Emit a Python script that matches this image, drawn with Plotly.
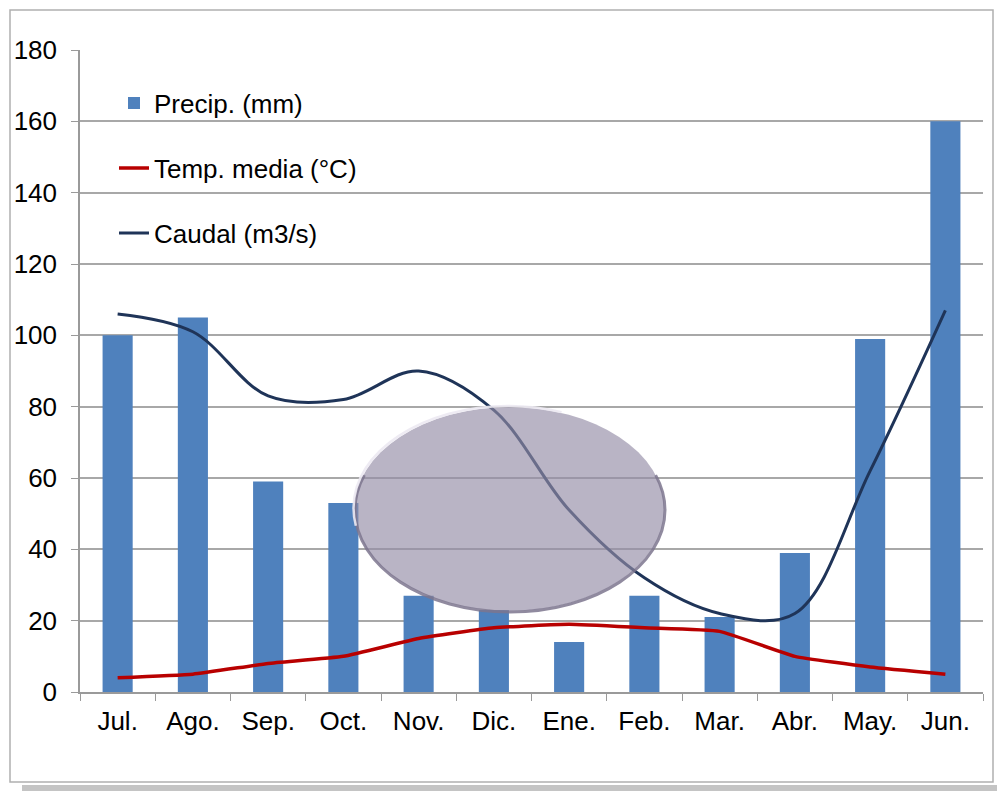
import math
import plotly.graph_objects as go

months = ["Jul.", "Ago.", "Sep.", "Oct.", "Nov.", "Dic.", "Ene.", "Feb.", "Mar.", "Abr.", "May.", "Jun."]
precip = [100, 105, 59, 53, 27, 23, 14, 27, 21, 39, 99, 160]
temp = [4, 5, 8, 10, 15, 18, 19, 18, 17, 10, 7, 5]
caudal = [106, 101, 83, 82, 90, 79, 51, 32, 22, 22, 62, 107]
yticks = [0, 20, 40, 60, 80, 100, 120, 140, 160, 180]

FONT = "Liberation Sans, Arial, sans-serif"
FS = 26
W, H = 997, 791
L, R, T, B = 80, 14, 50, 99
PW, PH = W - L - R, H - T - B

def px(x):
    return (x - L) / PW

def py(y):
    return (H - B - y) / PH

# decorative ellipse (pixel geometry)
CX, CY, RX, RY = 509.5, 509.0, 155.0, 102.0

def arc_path(segments, dx=0.0, dy=0.0):
    # segments: list of (start_deg, end_deg), each at most 90 degrees; screen coords (y down)
    d = ""
    first = True
    for a0, a1 in segments:
        t0, t1 = math.radians(a0), math.radians(a1)
        k = 4.0 / 3.0 * math.tan(abs(t1 - t0) / 4.0)
        s = 1 if a1 > a0 else -1
        p0 = (CX + dx + RX * math.cos(t0), CY + dy + RY * math.sin(t0))
        p3 = (CX + dx + RX * math.cos(t1), CY + dy + RY * math.sin(t1))
        c1 = (p0[0] - s * k * RX * math.sin(t0), p0[1] + s * k * RY * math.cos(t0))
        c2 = (p3[0] + s * k * RX * math.sin(t1), p3[1] - s * k * RY * math.cos(t1))
        if first:
            d += f"M {px(p0[0]):.5f},{py(p0[1]):.5f} "
            first = False
        d += (f"C {px(c1[0]):.5f},{py(c1[1]):.5f} {px(c2[0]):.5f},{py(c2[1]):.5f} "
              f"{px(p3[0]):.5f},{py(p3[1]):.5f} ")
    return d

fig = go.Figure()
fig.add_trace(go.Bar(x=months, y=precip, name="Precip. (mm)", marker_color="#4F81BD",
                     marker_line_width=0, width=0.4, legend="legend"))
fig.add_trace(go.Scatter(x=months, y=temp, name="Temp. media (°C)", mode="lines",
                         line=dict(color="#B80000", width=3.5, shape="spline", smoothing=0.4),
                         legend="legend2"))
fig.add_trace(go.Scatter(x=months, y=caudal, name="Caudal (m3/s)", mode="lines",
                         line=dict(color="#1F3458", width=3, shape="spline", smoothing=1.0),
                         legend="legend3"))

leg = dict(bgcolor="rgba(0,0,0,0)", borderwidth=0, font=dict(family=FONT, size=FS, color="#000"),
           xanchor="left", yanchor="middle", x=px(114), itemwidth=30)
fig.update_layout(
    width=W, height=H,
    margin=dict(l=L, r=R, t=T, b=B),
    paper_bgcolor="white", plot_bgcolor="white",
    font=dict(family=FONT, size=FS, color="#000"),
    showlegend=True,
    legend=dict(leg, y=py(103)),
    legend2=dict(leg, y=py(168)),
    legend3=dict(leg, y=py(233)),
    xaxis=dict(showline=True, linecolor="#9A9A9A", linewidth=1.5, ticks="outside", tickson="boundaries",
               ticklen=7, tickcolor="#9A9A9A", showgrid=False, tickfont=dict(size=FS),
               ticklabelstandoff=5),
    yaxis=dict(range=[0, 180], tickvals=yticks, showline=True, linecolor="#9A9A9A", linewidth=1.5,
               ticks="outside", ticklen=7, tickcolor="#9A9A9A", showgrid=True, gridcolor="#A8A8A8",
               gridwidth=1.5, zeroline=False, tickfont=dict(size=FS), ticklabelstandoff=9),
    shapes=[
        dict(type="rect", xref="paper", yref="paper", x0=px(22), x1=px(997), y0=py(791), y1=py(785),
             fillcolor="#C4C4C4", line=dict(width=0), layer="below"),
        dict(type="rect", xref="paper", yref="paper", x0=px(10), x1=px(993), y0=py(782), y1=py(10),
             fillcolor="rgba(0,0,0,0)", line=dict(color="#B0B0B0", width=1.5), layer="below"),
        dict(type="circle", xref="paper", yref="paper", x0=px(CX - RX), x1=px(CX + RX),
             y0=py(CY + RY), y1=py(CY - RY),
             fillcolor="rgb(147,140,166)", opacity=0.65, line=dict(width=0), layer="above"),
        dict(type="path", xref="paper", yref="paper",
             path=arc_path([(-20, 0), (0, 90), (90, 180), (180, 200)], dx=0.5, dy=1.0),
             line=dict(color="rgba(125,118,142,0.85)", width=3), layer="above"),
        dict(type="path", xref="paper", yref="paper",
             path=arc_path([(170, 180), (180, 270), (270, 290)], dx=-1.0, dy=-1.0),
             line=dict(color="rgba(236,233,242,0.9)", width=2.5), layer="above"),
    ],
)
fig.write_html("out.html", post_script="document.body.style.margin='0';",
               config={"displayModeBar": False})
